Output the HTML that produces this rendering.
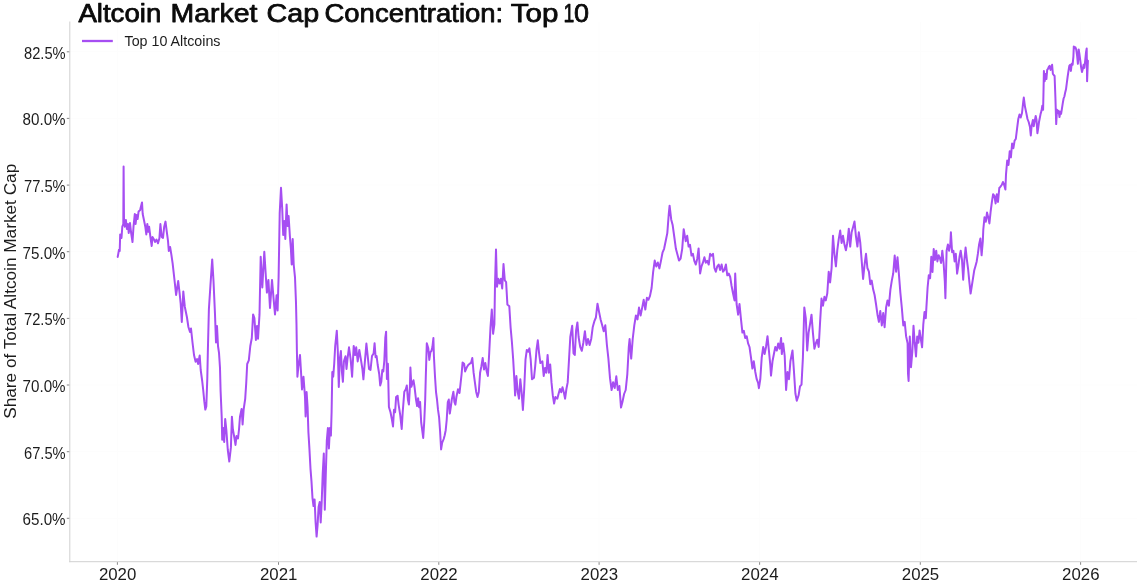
<!DOCTYPE html>
<html lang="en">
<head>
<meta charset="utf-8">
<title>Altcoin Market Cap Concentration: Top 10</title>
<style>
html,body{margin:0;padding:0;background:#ffffff;}
body{width:1140px;height:586px;overflow:hidden;font-family:"Liberation Sans",sans-serif;}
svg{display:block;will-change:transform;}
text{font-family:"Liberation Sans",sans-serif;fill:#1c1c1c;}
.t{font-weight:400;font-size:25px;fill:#0b0b0b;stroke:#0b0b0b;stroke-width:0.75px;stroke-linejoin:round;}
.yl{font-size:16px;}
.xl{font-size:16px;}
.lg{font-size:14.6px;}
.ax{font-size:16.5px;}
</style>
</head>
<body>
<svg width="1140" height="586" viewBox="0 0 1140 586">
<rect x="0" y="0" width="1140" height="586" fill="#ffffff"/>

<g stroke="#fdfdfd" stroke-width="1" fill="none">
<line x1="117.4" y1="22" x2="117.4" y2="561"/>
<line x1="278.5" y1="22" x2="278.5" y2="561"/>
<line x1="438.8" y1="22" x2="438.8" y2="561"/>
<line x1="599.1" y1="22" x2="599.1" y2="561"/>
<line x1="759.6" y1="22" x2="759.6" y2="561"/>
<line x1="920.3" y1="22" x2="920.3" y2="561"/>
<line x1="1080.6" y1="22" x2="1080.6" y2="561"/>
<line x1="70" y1="51.8" x2="1137" y2="51.8"/>
<line x1="70" y1="118.4" x2="1137" y2="118.4"/>
<line x1="70" y1="185.1" x2="1137" y2="185.1"/>
<line x1="70" y1="251.7" x2="1137" y2="251.7"/>
<line x1="70" y1="318.4" x2="1137" y2="318.4"/>
<line x1="70" y1="385.0" x2="1137" y2="385.0"/>
<line x1="70" y1="451.7" x2="1137" y2="451.7"/>
<line x1="70" y1="518.3" x2="1137" y2="518.3"/>
</g>
<g stroke="#d0d0d0" stroke-width="1" fill="none">
<line x1="69.8" y1="21.5" x2="69.8" y2="562.2"/>
<line x1="69.3" y1="561.7" x2="1137" y2="561.7"/>
</g>
<g stroke="#7a7a7a" stroke-width="0.9" fill="none">
<line x1="66.8" y1="51.8" x2="69.3" y2="51.8"/>
<line x1="66.8" y1="118.4" x2="69.3" y2="118.4"/>
<line x1="66.8" y1="185.1" x2="69.3" y2="185.1"/>
<line x1="66.8" y1="251.7" x2="69.3" y2="251.7"/>
<line x1="66.8" y1="318.4" x2="69.3" y2="318.4"/>
<line x1="66.8" y1="385.0" x2="69.3" y2="385.0"/>
<line x1="66.8" y1="451.7" x2="69.3" y2="451.7"/>
<line x1="66.8" y1="518.3" x2="69.3" y2="518.3"/>
<line x1="117.4" y1="562.2" x2="117.4" y2="564.8"/>
<line x1="278.5" y1="562.2" x2="278.5" y2="564.8"/>
<line x1="438.8" y1="562.2" x2="438.8" y2="564.8"/>
<line x1="599.1" y1="562.2" x2="599.1" y2="564.8"/>
<line x1="759.6" y1="562.2" x2="759.6" y2="564.8"/>
<line x1="920.3" y1="562.2" x2="920.3" y2="564.8"/>
<line x1="1080.6" y1="562.2" x2="1080.6" y2="564.8"/>
</g>
<polyline fill="none" stroke="#a64ef2" stroke-width="2" stroke-linejoin="round" stroke-linecap="round" points="117.7,256.9 119,249.7 119.7,251 120.2,234.4 121.5,238 122.3,226.7 123.3,224 123.6,166.6 124,219 124.8,226.7 125.9,220 126.9,229 127.9,224 128.7,233 130,223 131,232 132.5,242 133.5,226.7 134.8,214 135.6,224 136.6,215 137.6,219 138.6,211.4 140.2,210 140.7,207.5 142,202.4 142.7,214 144,220.3 145.3,226.7 146.3,234.4 147.3,224 148.4,231.8 149.1,226.7 150.4,237 151.7,246 152.5,237 154,239.5 155,242 156.5,239.5 158,243.3 159.4,238.2 160.4,224 161.7,237 163,238 164.2,226.7 165.5,221.6 166.8,231.8 168,240.8 168.8,251 170.1,247 171.4,254.9 172.6,263.2 174.6,281 176.1,295 178.2,281 179.7,294 180.7,304 181.8,322 183.3,291.4 184.8,306.7 186.9,317 188.4,327 190,332 191,328.5 192.5,342.5 194,355 195.6,361.7 197.1,359 198.1,364 199.7,355.5 200.7,370 202.2,381 203.2,390 204.3,401.4 205.3,409.6 206.3,406.5 207.3,378.4 207.9,349 208.9,309 210.4,286 212.2,259.4 213.5,281 215,314.4 216,342.5 217,326 218,346 219,352.8 220,368 220.6,391 221.7,416.7 222.2,439.7 223.2,428 224.2,442 225.2,419 226.3,429.5 227.8,450 229.3,461.5 230.9,447.4 231.9,416.7 232.9,429.5 234.5,438.5 235.5,444.9 236.5,436 238,438.5 239,429.5 240,416.7 241.6,409 242.6,424.4 243.7,409 245.2,398.8 246.2,383.5 247.2,364 248.8,360.4 250.3,346 251.8,338 253.1,314.4 254.4,318 255.9,340 257,326 258,338.7 259.5,314.4 260.7,256.8 262.3,287.5 264.3,251.7 265.9,277.3 266.9,292.6 268.4,279.9 270,308 272,279.9 273.5,297.8 275,314.4 276.6,295.2 277.6,310.5 278.6,277.3 279.7,213.4 281,187.8 282.2,208.2 283.2,235 284.3,221 285.3,239 286.6,204.4 287.6,226 288.6,216 289.9,236.4 290.9,249 291.7,264.5 292.7,239 293.7,264.5 295,277.3 296,303 296.5,325 296.9,351 297.4,376.7 298.4,366.5 300,355 301,371.6 302,389.5 303.5,376.7 305,397 305.6,416.4 306.6,392 307.6,407.4 308.4,432 309.4,448.4 310.5,468.8 311.5,481.6 312.5,498.2 313.5,506 314.6,499.5 315.6,522.5 316.6,536.6 317.6,525 318.6,507 319.7,502 320.7,522.5 321.7,502 322.7,474 323.8,453.5 324.8,509.7 325.8,474 326.8,440.7 327.9,428 328.9,448.4 329.9,428 330.9,435.6 331.6,412 332.3,372 333.2,376.7 334.2,364 335.2,346 336.8,330.7 337.8,351 338.8,387 339.8,358.8 340.9,351 341.9,371.6 342.9,381.8 343.9,361.4 345.5,356.3 346.5,369 347.5,358.8 349,347.3 350.6,358.8 352.1,376.7 353.7,346 355.2,355 356.2,347.3 357.7,361.4 359.3,349.9 360.8,358.8 362.4,369 363.4,379.3 364.9,361.4 366.4,343.5 368,358.8 369,369 370.5,370 372,356 373.6,353.5 374.6,343.2 375.6,357.3 376.6,356 377.7,365 379.2,374 380.2,385.4 381.3,381.6 382.3,370 383.3,371.4 384.3,361 385.3,338 386.1,331.7 386.9,379 387.9,363.7 388.9,407 390.5,412.3 392,420 393,426.4 394,409.7 395.1,412.3 396.1,397 397.6,395.7 398.6,404.6 400.2,414.9 401.7,429 402.7,412.3 404.3,391.8 405.8,389.3 406.8,385.4 407.9,399.5 408.9,404.6 409.9,386.7 410.4,367.5 411.4,386.7 412.5,382.9 413.5,380.3 414.5,386.7 416,399.5 417.1,406 418.1,398.2 419.1,407.2 420.1,402 421.2,422.5 422.2,430.2 423.2,437.9 424.2,422.5 425.2,399.5 425.8,376.5 426.8,343.2 428.3,348.4 429.3,359.9 430.4,352.2 431.4,351 432.4,347 433.4,338 433.9,356 435,376.5 436,391.8 437,399.5 438,409.7 439.1,417.4 440.1,431.5 441.1,449.4 442.1,443 443.7,439 444.7,435.3 445.7,430.2 446.7,420 447.8,402 448.8,399.5 449.8,413.6 450.8,407.2 451.8,399.5 453.4,391.8 454.4,402 455.4,404.6 456.4,397 458,389.3 459.5,393 460.5,384.2 461.6,374 462.6,362.4 464.1,363.7 465.1,371.4 466.7,367.5 468.2,365 469.7,363.7 471,363 472.3,358 473.6,372.7 474.9,382.4 476.2,392 477.5,397 478.8,392 480.1,372.7 481.4,366.2 482.7,358 484,369.5 485.3,363 486.6,371 487.9,376 489.2,353.3 490.5,327.3 491.8,309.5 493.1,333.8 494.4,324 495,285 496,249.5 497,286.8 498.3,278.7 499.6,283.5 500.9,278.7 502.2,288.4 503.5,264 504.8,280.3 506.1,282 507.4,304.6 509.3,306.2 510.6,327.3 511.9,342 513.2,359.7 514.5,382.4 515.1,395.4 516.4,376 517.7,392 519,398.7 520.3,379.2 521.6,392 522.9,410 524.2,389 525.5,359.7 526.8,350 528.1,351.6 529.4,348.4 530.7,359.7 532,379.2 534,377.6 535.2,366.2 536.5,350 537.8,340.3 539.1,353.3 540.4,363 542.4,361.4 543.7,376 545,367.9 546.3,372.7 547.6,354.9 548.9,372.7 550.2,364.6 551.5,382.4 552.8,395.4 554.1,403.5 555.4,397 557.3,398.7 558.6,393.8 559.9,389 561.2,392.2 562.5,387.3 563.8,392.2 565.1,398.7 566.4,389 567.7,382.4 569,359.7 570.3,337 572.2,325.7 573.5,353.3 574.8,354.9 576.1,330.5 577.4,322.4 578.6,337 580.2,346.9 581.8,350.8 583.3,343 584.9,331.2 586.5,345 588,339 589.6,345 591.2,339 592.7,327.3 594.3,321.4 595.9,317.5 597.5,303.7 599,311.6 600.6,319.4 602.2,325.3 603.7,331.2 605.3,325.3 606.9,345 608.4,358.6 610,378.2 611.6,390 613.1,382.2 614.7,388 616.3,376.3 617.8,390 619.4,386 621,407.6 622.5,401.8 624.1,394 625.7,390 627.3,374.3 628.8,346.9 629.6,339 631.2,358.6 632.7,339 634.3,325.3 635.9,315.5 637.5,319.4 639,307.6 640.6,315.5 642.2,307.6 643.7,299.8 645.3,309.6 646.9,297.8 648.4,299.8 650,295.9 651.6,288 653.1,272.4 654.7,260.6 656.3,266.5 657.8,262.5 659.4,268.4 661,260.6 662.5,252.7 664.1,248.8 665.7,241 667.3,233.1 668.8,213.5 669.6,205.7 671.2,219.4 672.7,225.3 674.3,237 675.9,248.8 677.5,254.7 679,260.6 680.6,258.6 682.2,248.8 683.7,229.2 685.7,241.2 687.2,235.8 688.6,246.6 690,244.8 691.5,255.6 692.9,253.8 694.3,260.9 695.8,264.5 697.2,259 698.6,248.4 700.1,273.5 701.5,266.3 702.9,262.7 704.4,257.3 705.8,262.7 707.2,260.9 708.7,264.5 710.1,253.8 711.5,255.6 713,253.8 714.4,268 715.8,271.7 717.3,266.3 718.7,264.5 720.1,270 721.6,264.5 723,271.7 724.4,270 725.9,264.5 727.3,275.3 728.7,273.5 730.2,277 731.6,286 733,293.2 734.5,300.4 735.2,273.5 736.6,304 738.1,314.7 739.5,304 740.9,318.3 742.4,332.6 743.8,330.8 745.2,338 746.7,336.2 748.1,343.4 749.5,347 751,357.7 752.4,368.5 753.8,361.3 755.3,372 756.7,379.2 758.1,382.8 758.9,388.2 760.3,379.2 761.7,357.7 763.2,347 764.6,354 766,347 767.5,336.2 768.9,350.5 770.3,364.9 771,375.6 772.5,361.3 773.9,354 775.3,347 776.8,350.5 778.2,343.4 779.6,348.7 781.1,338 781.8,354 783.2,343.4 784.7,356 786.1,390 787.5,372 789,379.2 790.4,361.3 791.8,354 792.5,350.5 794,372 795.4,393.5 796.8,400.7 798.6,395.3 800,386.4 801.5,384.6 802.9,357.7 804.3,307.5 805.8,318.3 807.2,350.5 808.6,332.6 810.1,323.7 811.5,314.7 812.9,332.6 814.4,348.7 815.8,343.4 817.2,339.8 818.7,347 820.1,321.9 821.5,298.6 823,305.7 824.4,296.8 825.8,300.4 827.3,293.2 828.7,271.7 830.1,282.4 831.6,268 833,235.8 834.4,253.8 835.9,266.3 837.3,250.2 838.7,239.4 840.2,230.5 841.6,243 843,235.8 844.5,244.8 845.9,250.2 847.3,243 848.8,228.7 850.2,246.6 851.6,232.3 853.1,226.9 854.5,221.5 855.9,235.8 857.4,246.6 858.8,232.3 860.3,243 861.7,260.9 863.1,278.9 864.6,264.5 866,253.8 867.4,268 868.9,271.7 870.3,284.2 871.7,280.6 873.2,289.6 874.6,295 876,304 877.5,314.7 878.9,321.9 880.3,311 881.8,325.4 883.2,313 884.6,327.2 886.1,307.5 887.5,300.4 888.9,305.7 890.4,289.6 891.8,280.6 893.2,273.5 894.7,255.6 896.1,271.7 897.5,257.3 899,275.3 900.4,293.2 901.8,307.5 903.3,325.4 904.7,321.9 906.1,336.2 907.6,343.4 908,373.4 908.6,381 909.8,336.6 911,367.2 912.3,351.9 913.5,325.8 914.7,342.7 916,356.5 917.2,336.6 918.4,342.7 919.6,330.4 920.9,339.6 922.1,347.3 923.3,324.3 924.5,312 925.8,318.2 926.4,307.4 927.6,287.5 928.8,275.2 930.1,278.3 931.3,256.8 932.5,272 933.7,249 935,259.9 936.2,250.7 937.4,261.4 938.7,255.3 939.9,258.3 941.1,263 942.3,250.7 943.6,263 944.8,281.3 945.4,298.2 946.6,250.7 947.9,244.5 949.1,250.7 950.3,244.5 950.9,232.3 952.1,252.2 953.4,250.7 954.6,261.4 955.8,253.7 957.1,273.7 958.3,266 959.5,256.8 960.7,250.7 962,259.9 963.2,279.8 964.4,259.9 965.6,247.6 966.9,259.9 968.1,269 969.3,281.3 970.6,293.6 971.8,286 973,278.3 974.2,270.6 975.5,266 976.7,261.4 977.9,253.7 979.1,244.5 980.4,238.4 981.6,255.3 982.8,241.5 983.3,229.5 984.5,217.2 985.8,221.8 987,212.6 988.2,217.2 989.4,223.4 990.7,211 991.9,201.9 993.1,194.2 994.4,195.8 995.6,203.4 996.8,194.2 998,201.9 999.3,188 1000.5,186.6 1001.7,185 1002.9,182 1004.2,185 1005.4,189.6 1006,174.3 1007.2,160.5 1008.5,165 1009.7,151.3 1010.9,157.4 1012.1,143.6 1013.4,148.2 1014.6,140.6 1015.8,139 1017.1,128.3 1018.3,119 1019.5,114.5 1020.7,117.5 1022,113 1023.2,102.2 1023.8,97.6 1025,106.8 1026.3,113 1027.5,119 1028.7,122 1029.9,126.7 1030.8,135.4 1031.6,126.2 1032.9,120 1033.7,126.2 1034.5,122 1035.7,116 1036.5,120 1037.4,133.3 1038.2,128.2 1039,122 1039.8,118 1040.6,113.9 1041.5,110.8 1042.3,105.7 1043.1,109.8 1043.5,91.4 1043.9,70.9 1044.7,81.2 1045.6,74 1046.4,79.1 1047.2,69.9 1048,68.9 1048.8,66.8 1049.6,65.8 1050.5,69.9 1051.3,67.9 1052.1,64.8 1052.9,74 1053.7,75 1054.6,76 1055.4,97.5 1056.2,124.1 1057,109.8 1057.8,112.9 1058.6,110.8 1059.5,117 1060.3,111.8 1061.1,113.9 1061.9,108.8 1062.7,103.7 1063.6,98.5 1064.4,96.5 1065.2,92.4 1066,89.3 1066.8,83.2 1067.6,77 1068.5,70.9 1069.3,65.8 1070.1,64.8 1070.9,70.9 1071.7,63.8 1072.6,64.8 1073.4,56.6 1073.8,46.4 1074.6,48.4 1075.4,47.4 1076.2,49.4 1077.1,55.6 1077.9,63.8 1078.7,49.4 1079.5,54.6 1080.3,60.7 1081.2,67.9 1082,72 1082.8,68.9 1083.6,64.8 1084.4,67.9 1085.2,60.7 1086,52.5 1086.7,48.4 1087.1,81.2 1087.9,60.7"/>
<line x1="82" y1="41" x2="112.8" y2="41" stroke="#a64ef2" stroke-width="2.3"/>
<text class="lg" x="124.5" y="46.4" textLength="96" lengthAdjust="spacingAndGlyphs">Top 10 Altcoins</text>
<text class="t" y="21.6"><tspan x="78.4" textLength="82.9" lengthAdjust="spacingAndGlyphs">Altcoin</tspan> <tspan x="170.5" textLength="86.9" lengthAdjust="spacingAndGlyphs">Market</tspan> <tspan x="266.6" textLength="52.6" lengthAdjust="spacingAndGlyphs">Cap</tspan> <tspan x="324.5" textLength="178.7" lengthAdjust="spacingAndGlyphs">Concentration:</tspan> <tspan x="510.8" textLength="47.6" lengthAdjust="spacingAndGlyphs">Top</tspan> <tspan x="574.0" textLength="15.0" lengthAdjust="spacingAndGlyphs">0</tspan><tspan x="563.6" textLength="10.8" lengthAdjust="spacingAndGlyphs">1</tspan></text>
<text class="yl" x="24.0" y="58.6" textLength="41.6" lengthAdjust="spacingAndGlyphs">82.5%</text>
<text class="yl" x="22.6" y="125.2" textLength="43.0" lengthAdjust="spacingAndGlyphs">80.0%</text>
<text class="yl" x="24.0" y="191.9" textLength="41.6" lengthAdjust="spacingAndGlyphs">77.5%</text>
<text class="yl" x="22.6" y="258.5" textLength="43.0" lengthAdjust="spacingAndGlyphs">75.0%</text>
<text class="yl" x="24.0" y="325.2" textLength="41.6" lengthAdjust="spacingAndGlyphs">72.5%</text>
<text class="yl" x="22.6" y="391.8" textLength="43.0" lengthAdjust="spacingAndGlyphs">70.0%</text>
<text class="yl" x="24.0" y="458.5" textLength="41.6" lengthAdjust="spacingAndGlyphs">67.5%</text>
<text class="yl" x="22.6" y="525.1" textLength="43.0" lengthAdjust="spacingAndGlyphs">65.0%</text>
<text class="xl" x="98.9" y="580.2" textLength="37.4" lengthAdjust="spacingAndGlyphs">2020</text>
<text class="xl" x="260.0" y="580.2" textLength="37.4" lengthAdjust="spacingAndGlyphs">2021</text>
<text class="xl" x="420.3" y="580.2" textLength="37.4" lengthAdjust="spacingAndGlyphs">2022</text>
<text class="xl" x="580.6" y="580.2" textLength="37.4" lengthAdjust="spacingAndGlyphs">2023</text>
<text class="xl" x="741.1" y="580.2" textLength="37.4" lengthAdjust="spacingAndGlyphs">2024</text>
<text class="xl" x="901.8" y="580.2" textLength="37.4" lengthAdjust="spacingAndGlyphs">2025</text>
<text class="xl" x="1062.1" y="580.2" textLength="37.4" lengthAdjust="spacingAndGlyphs">2026</text>
<text class="ax" transform="translate(16.4 418.8) rotate(-90)" x="0" y="0" textLength="255" lengthAdjust="spacingAndGlyphs">Share of Total Altcoin Market Cap</text>
</svg>
</body>
</html>
